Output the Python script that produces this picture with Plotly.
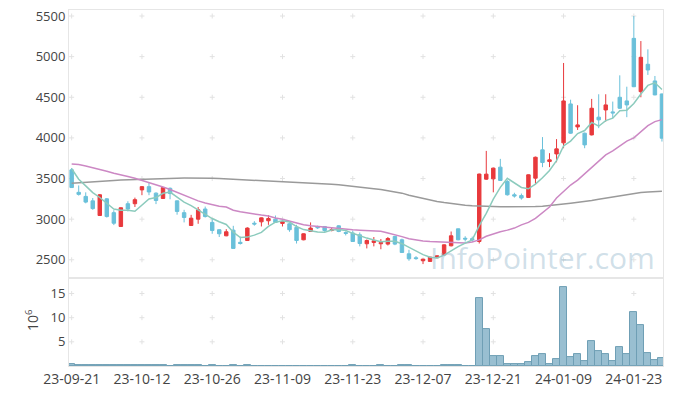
import plotly.graph_objects as go
import pandas as pd

dates = [
    "2023-09-21", "2023-09-22", "2023-09-25", "2023-09-26", "2023-09-27", "2023-10-04", "2023-10-05", "2023-10-06",
    "2023-10-10", "2023-10-11", "2023-10-12", "2023-10-13", "2023-10-16", "2023-10-17", "2023-10-18", "2023-10-19",
    "2023-10-20", "2023-10-23", "2023-10-24", "2023-10-25", "2023-10-26", "2023-10-27", "2023-10-30", "2023-10-31",
    "2023-11-01", "2023-11-02", "2023-11-03", "2023-11-06", "2023-11-07", "2023-11-08", "2023-11-09", "2023-11-10",
    "2023-11-13", "2023-11-14", "2023-11-15", "2023-11-16", "2023-11-17", "2023-11-20", "2023-11-21", "2023-11-22",
    "2023-11-23", "2023-11-24", "2023-11-27", "2023-11-28", "2023-11-29", "2023-11-30", "2023-12-01", "2023-12-04",
    "2023-12-05", "2023-12-06", "2023-12-07", "2023-12-08", "2023-12-11", "2023-12-12", "2023-12-13", "2023-12-14",
    "2023-12-15", "2023-12-18", "2023-12-19", "2023-12-20", "2023-12-21", "2023-12-22", "2023-12-26", "2023-12-27",
    "2023-12-28", "2024-01-02", "2024-01-03", "2024-01-04", "2024-01-05", "2024-01-08", "2024-01-09", "2024-01-10",
    "2024-01-11", "2024-01-12", "2024-01-15", "2024-01-16", "2024-01-17", "2024-01-18", "2024-01-19", "2024-01-22",
    "2024-01-23", "2024-01-24", "2024-01-25", "2024-01-26", "2024-01-29",
]

opens = [3607, 3330, 3280, 3225, 3045, 3250, 3080, 2910, 3190, 3190, 3360, 3400, 3320, 3255, 3380, 3225, 3080, 2922,
         3000, 3125, 2960, 2870, 2795, 2865, 2715, 2737, 2950, 2967, 2980, 3000, 2947, 2943, 2898, 2746, 2848, 2905,
         2910, 2860, 2918, 2835, 2830, 2807, 2697, 2713, 2697, 2693, 2787, 2746, 2574, 2525, 2488, 2480, 2525, 2561,
         2672, 2881, 2765, 2760, 2725, 3492, 3496, 3640, 3464, 3300, 3290, 3267, 3504, 3853, 3709, 3803, 3939, 4418,
         4135, 4058, 4037, 4255, 4344, 4320, 4500, 4455, 5225, 4569, 4906, 4701, 4541]
highs = [3630, 3415, 3330, 3260, 3310, 3260, 3110, 3145, 3220, 3265, 3405, 3455, 3330, 3395, 3390, 3230, 3115, 3053,
         3150, 3155, 3000, 2875, 2877, 2918, 2785, 2900, 2975, 3020, 3050, 3045, 2990, 2950, 2930, 2825, 2960, 2920,
         2915, 2900, 2925, 2850, 2860, 2836, 2750, 2780, 2755, 2780, 2795, 2760, 2623, 2545, 2512, 2535, 2555, 2690,
         2848, 2885, 2790, 2785, 3560, 3840, 3635, 3742, 3480, 3325, 3315, 3550, 3770, 4010, 3812, 3985, 4922, 4470,
         4402, 4065, 4480, 4537, 4537, 4447, 4770, 4630, 5500, 5192, 5090, 4762, 4545]
lows = [3385, 3290, 3195, 3115, 3040, 3020, 2927, 2905, 3095, 3150, 3295, 3295, 3185, 3250, 3245, 3055, 2960, 2920,
        2943, 3020, 2820, 2780, 2790, 2638, 2688, 2735, 2920, 2910, 2930, 2955, 2910, 2845, 2700, 2740, 2845, 2880,
        2845, 2850, 2840, 2800, 2720, 2665, 2640, 2665, 2630, 2676, 2680, 2585, 2488, 2500, 2447, 2478, 2520, 2555,
        2665, 2740, 2725, 2725, 2700, 3484, 3330, 3470, 3290, 3265, 3240, 3260, 3434, 3640, 3640, 3700, 3873, 4050,
        4098, 3873, 4030, 4120, 4200, 4242, 4355, 4255, 4625, 4500, 4775, 4525, 3955]
closes = [3389, 3305, 3210, 3130, 3300, 3032, 2950, 3140, 3125, 3240, 3400, 3335, 3230, 3390, 3315, 3095, 3020, 3012,
          3115, 3032, 2860, 2820, 2845, 2640, 2700, 2890, 2940, 3016, 3008, 2960, 2971, 2870, 2737, 2820, 2890, 2895,
          2860, 2870, 2848, 2825, 2725, 2700, 2737, 2733, 2713, 2762, 2693, 2590, 2512, 2515, 2508, 2533, 2549, 2684,
          2795, 2746, 2755, 2745, 3555, 3554, 3628, 3476, 3300, 3285, 3260, 3546, 3762, 3697, 3730, 3865, 4455, 4058,
          4160, 3914, 4365, 4222, 4406, 4308, 4365, 4406, 4630, 4992, 4836, 4529, 3996]
# closes of the four sessions before the first visible one (for the 5-day average)
prev_closes = [3945, 3620, 3545, 3601]

ma20 = [3680, 3673, 3655, 3635, 3615, 3590, 3565, 3548, 3525, 3504, 3478, 3455, 3420, 3395, 3365, 3330, 3295, 3255,
        3225, 3200, 3180, 3160, 3150, 3110, 3090, 3075, 3062, 3050, 3040, 3015, 3000, 2975, 2950, 2932, 2920, 2910,
        2900, 2890, 2885, 2875, 2869, 2865, 2863, 2861, 2850, 2830, 2810, 2785, 2760, 2745, 2732, 2725, 2722, 2718,
        2712, 2705, 2708, 2718, 2745, 2790, 2820, 2845, 2865, 2890, 2930, 2960, 3010, 3080, 3150, 3260, 3340, 3420,
        3480, 3560, 3640, 3710, 3790, 3840, 3900, 3960, 4000, 4080, 4150, 4200, 4225]
ma120 = [3443, 3450, 3456, 3462, 3467, 3472, 3477, 3481, 3485, 3489, 3492, 3495, 3498, 3500, 3502, 3504, 3505, 3506,
         3506, 3505, 3503, 3500, 3496, 3492, 3488, 3484, 3478, 3474, 3470, 3466, 3462, 3458, 3455, 3450, 3446, 3441,
         3436, 3430, 3423, 3415, 3405, 3395, 3385, 3374, 3364, 3352, 3340, 3320, 3295, 3275, 3255, 3235, 3218, 3205,
         3192, 3180, 3172, 3165, 3160, 3157, 3155, 3153, 3152, 3151, 3150, 3152, 3155, 3160, 3166, 3175, 3185, 3195,
         3205, 3215, 3230, 3245, 3260, 3275, 3290, 3305, 3318, 3328, 3335, 3340, 3342]

# volume in millions of shares
volume = [0.3, 0.15, 0.15, 0.15, 0.15, 0.15, 0.15, 0.15, 0.15, 0.15, 0.15, 0.15, 0.15, 0.15, 0, 0.15, 0.15, 0.15,
          0.15, 0, 0.15, 0, 0, 0.15, 0, 0.15, 0, 0, 0, 0, 0, 0, 0, 0, 0, 0,
          0, 0, 0, 0, 0.15, 0, 0, 0, 0.15, 0, 0, 0.15, 0.15, 0, 0, 0, 0, 0.15,
          0.15, 0.15, 0, 0, 14.1, 7.6, 2.1, 2.1, 0.5, 0.3, 0.3, 0.9, 2.1, 2.5, 0.5, 1.5, 16.4, 1.9,
          2.5, 1.1, 5.2, 3.0, 2.5, 1.1, 4.0, 2.5, 11.1, 8.4, 2.7, 1.3, 1.7]

tick_idx = [0, 10, 20, 30, 40, 50, 60, 70, 80]
tick_labels = ["23-09-21", "23-10-12", "23-10-26", "23-11-09", "23-11-23", "23-12-07", "23-12-21", "24-01-09", "24-01-23"]
price_ticks = [2500, 3000, 3500, 4000, 4500, 5000, 5500]
vol_ticks = [5, 10, 15]

ma5 = pd.Series(prev_closes + closes).rolling(5).mean().iloc[len(prev_closes):].tolist()

# sessions plotted by their position, labelled with dates
xpos = list(range(len(dates)))

RED = "#e8393c"
BLUE = "#6ac0da"
FONT = "Open Sans"
CROSS_LINE = dict(color="#e2e2e2", width=1)

fig = go.Figure()

fig.add_trace(go.Candlestick(
    x=xpos, open=opens, high=highs, low=lows, close=closes, xaxis="x", yaxis="y",
    text=dates, hoverinfo="text",
    increasing=dict(line=dict(color=RED, width=1), fillcolor=RED),
    decreasing=dict(line=dict(color=BLUE, width=1), fillcolor=BLUE),
    whiskerwidth=0, showlegend=False))

fig.add_trace(go.Scatter(x=xpos, y=ma120, mode="lines", xaxis="x", yaxis="y",
                         line=dict(color="#9a9a9a", width=1.5), showlegend=False))
fig.add_trace(go.Scatter(x=xpos, y=ma20, mode="lines", xaxis="x", yaxis="y",
                         line=dict(color="#cc88c4", width=1.5), showlegend=False))
fig.add_trace(go.Scatter(x=xpos, y=ma5, mode="lines", xaxis="x", yaxis="y",
                         line=dict(color="#8ccbbd", width=1.5), showlegend=False))

fig.add_trace(go.Bar(x=xpos, y=volume, xaxis="x2", yaxis="y2",
                     marker=dict(color="#99bfd1", line=dict(color="#6f9fb5", width=1)),
                     showlegend=False))

# faint grid crosses at tick intersections, drawn beneath the data
shapes = []
for xref, yref, yvals in (("x", "y", price_ticks), ("x2", "y2", vol_ticks)):
    for i in tick_idx:
        for v in yvals:
            shapes.append(dict(type="line", xref=xref, yref=yref, xsizemode="pixel", xanchor=i,
                               x0=-2.5, x1=2.5, y0=v, y1=v, line=CROSS_LINE, layer="below"))
            shapes.append(dict(type="line", xref=xref, yref=yref, ysizemode="pixel", yanchor=v,
                               y0=-2.5, y1=2.5, x0=i, x1=i, line=CROSS_LINE, layer="below"))

xr = [-0.38, 84.15]
vol_top = 0.247
axis_common = dict(showgrid=False, zeroline=False, showline=True, mirror=True, linecolor="#e6e6e6",
                   ticks="", automargin=False)
# the page body adds an 8px offset, so the figure is 8px smaller than the window
fig.update_layout(
    width=665, height=388,
    margin=dict(l=61, r=10, t=2, b=30),
    paper_bgcolor="white", plot_bgcolor="white",
    font=dict(family=FONT, size=13, color="#444"),
    bargap=0,
    shapes=shapes,
    xaxis=dict(domain=[0, 1], anchor="y", range=xr, showticklabels=False,
               rangeslider=dict(visible=False), tickvals=tick_idx, **axis_common),
    xaxis2=dict(domain=[0, 1], anchor="y2", range=xr, matches="x",
                tickvals=tick_idx, ticktext=tick_labels, tickangle=0,
                tickfont=dict(size=14), **axis_common),
    yaxis=dict(domain=[vol_top, 1], range=[2275, 5574], tickvals=price_ticks,
               ticklabeloverflow="allow", **axis_common),
    yaxis2=dict(domain=[0, vol_top], range=[0, 18.2], tickvals=vol_ticks,
                ticklabeloverflow="allow", **axis_common),
    annotations=[
        dict(text="InfoPointer.com", xref="paper", yref="paper", x=0.99, y=0.306,
             xanchor="right", yanchor="middle", showarrow=False,
             font=dict(family=FONT, size=30, color="rgba(150,185,205,0.45)")),
        dict(text="10<sup>6</sup>", xref="paper", yref="paper", x=-0.062, y=0.13,
             xanchor="center", yanchor="middle", showarrow=False, textangle=-90,
             font=dict(family=FONT, size=14, color="#444")),
    ],
)

fig.write_html("out.html")
